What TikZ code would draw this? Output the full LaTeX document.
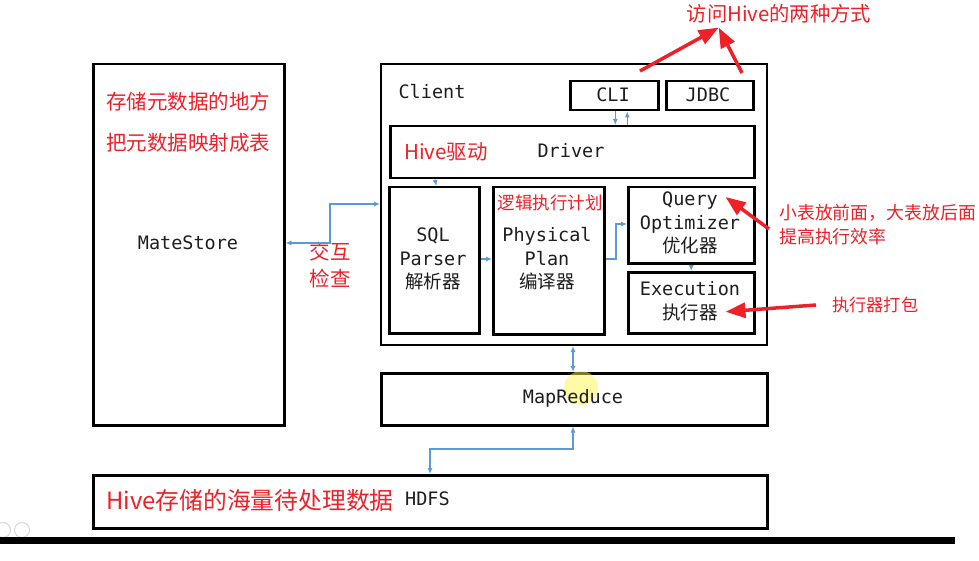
\documentclass[tikz,border=0pt]{standalone}
\usepackage{fontspec}
\setmonofont{DejaVu Sans Mono}
\newfontfamily\cjk{Noto Sans CJK SC}
\usetikzlibrary{arrows.meta,calc}
\definecolor{hred}{RGB}{238,32,40}
\definecolor{hblue}{RGB}{91,155,213}
\definecolor{hgray}{RGB}{30,30,30}
\begin{document}
\begin{tikzpicture}[x=1pt,y=-1pt,
  box/.style={draw=black,line width=2.5pt,anchor=north west,inner sep=0pt},
  mono/.style={font=\fontsize{18.5}{23.5}\selectfont\ttfamily,text=hgray,inner sep=0pt,align=center},
  redtxt/.style={font=\fontsize{20.5}{24}\selectfont\cjk,text=hred,inner sep=0pt},
  blink/.style={draw=hblue,line width=1.1pt},
  bto/.style={blink,-{Latex[length=6pt,width=5pt]}},
  bboth/.style={blink,{Latex[length=6pt,width=5pt]}-{Latex[length=6pt,width=5pt]}},
  rarrow/.style={draw=hred,line width=3.5pt,-{Triangle[length=20pt,width=15pt]}}
]
\useasboundingbox (0,0) rectangle (979,561);
\fill[white] (0,0) rectangle (979,561);

% boxes
\node[box,minimum width=191,minimum height=361] (mate) at (92,63) {};
\node[box,line width=2pt,minimum width=386,minimum height=281] (client) at (380,63) {};
\node[box,minimum width=88,minimum height=29] (cli) at (569,80) {};
\node[box,minimum width=87,minimum height=29] (jdbc) at (665,80) {};
\node[box,minimum width=364,minimum height=52] (driver) at (389,125) {};
\node[box,minimum width=90,minimum height=146] (sql) at (388,186) {};
\node[box,minimum width=111,minimum height=147] (phys) at (492,186) {};
\node[box,minimum width=126,minimum height=76] (opt) at (627,186) {};
\node[box,minimum width=126,minimum height=61] (exec) at (627,271) {};
\node[box,minimum width=386,minimum height=52] (mr) at (380,372) {};
\node[box,minimum width=674,minimum height=53] (hdfs) at (92,474) {};

% cursor highlight
\fill[yellow!70!white,opacity=0.5] (581,388) circle (17);

% texts
\node[mono] (mstext) at (188,243) {MateStore};
\node[redtxt] (ms1) at (188,102) {存储元数据的地方};
\node[redtxt] (ms2) at (188,143) {把元数据映射成表};
\node[mono] (clienttxt) at (432,92) {Client};
\node[mono] (clitxt) at (613,95) {CLI};
\node[mono] (jdbctxt) at (708,95) {JDBC};
\node[mono] (drvtxt) at (571,151) {Driver};
\node[redtxt] (hivedrv) at (446,152) {Hive驱动};
\node[mono] (sqltxt) at (433,259) {SQL\\Parser\\{\cjk 解析器}};
\node[mono] (phystxt) at (547,259) {Physical\\Plan\\{\cjk 编译器}};
\node[redtxt,font=\fontsize{17.5}{22}\selectfont\cjk] (logic) at (550,203) {逻辑执行计划};
\node[mono] (opttxt) at (690,223) {Query\\Optimizer\\{\cjk 优化器}};
\node[mono] (exectxt) at (690,301) {Execution\\{\cjk 执行器}};
\node[mono] (mrtxt) at (573,398) {MapReduce};
\node[redtxt,font=\fontsize{23.8}{26}\selectfont\cjk] (hdfsred) at (250,500) {Hive存储的海量待处理数据};
\node[mono,anchor=west] (hdfstxt) at (405,499) {HDFS};
\node[redtxt,align=center,font=\fontsize{20.5}{27}\selectfont\cjk] (jiaohu) at (330,265) {交互\\检查};
\node[redtxt,font=\fontsize{20.3}{22}\selectfont\cjk] (title) at (779,14) {访问Hive的两种方式};
\node[redtxt,anchor=west,align=left,font=\fontsize{17.9}{24}\selectfont\cjk] (opnote) at (779,225) {小表放前面，大表放后面\\提高执行效率};
\node[redtxt,anchor=west,font=\fontsize{17.2}{22}\selectfont\cjk] (exnote) at (832,305) {执行器打包};

% blue connectors
\draw[bto] ([xshift=1]cli.south) -- ([xshift=1]cli.south |- driver.north);
\draw[bto] ([xshift=13]cli.south |- driver.north) -- ([xshift=13]cli.south);
\draw[bto] (driver.south -| sqltxt) ++(2,0) -- ([xshift=2]sql.north);
\draw[bboth] (mate.east |- mstext) -- (330,243) -- (330,204) -- (client.west |- 0,204);
\draw[bto] (sql.east |- sqltxt) -- (phys.west |- sqltxt);
\draw[bto] (phys.east |- phystxt) -- (616,259) -- (616,224) -- (opt.west |- 0,224);
\draw[bto] (opt.south) -- (exec.north);
\draw[bboth] (client.south -| mrtxt) -- (mr.north -| mrtxt);
\draw[bboth] (mr.south -| mrtxt) -- (573,449) -- (430,449) -- (hdfs.north -| 430,0);

% red annotation arrows
\coordinate (t1) at (640,71);
\coordinate (t2) at (742,73);
\coordinate (t3) at (769,229);
\coordinate (t4) at (816,305);
\draw[rarrow] (t1) -- ([xshift=32,yshift=-4]title.south west);
\draw[rarrow] (t2) -- ([xshift=32,yshift=-4]title.south west);
\draw[rarrow] (t3) -- ($(opt.north east)+(-30,11)$);
\draw[rarrow] (t4) -- ($(exec.east)+(-30,9)$);

% screen artefacts
\draw[gray!30,line width=1pt] (3,530) circle (7.5) (22,530) circle (7.5);
\fill[black] (0,537) rectangle (955,544);
\end{tikzpicture}
\end{document}
